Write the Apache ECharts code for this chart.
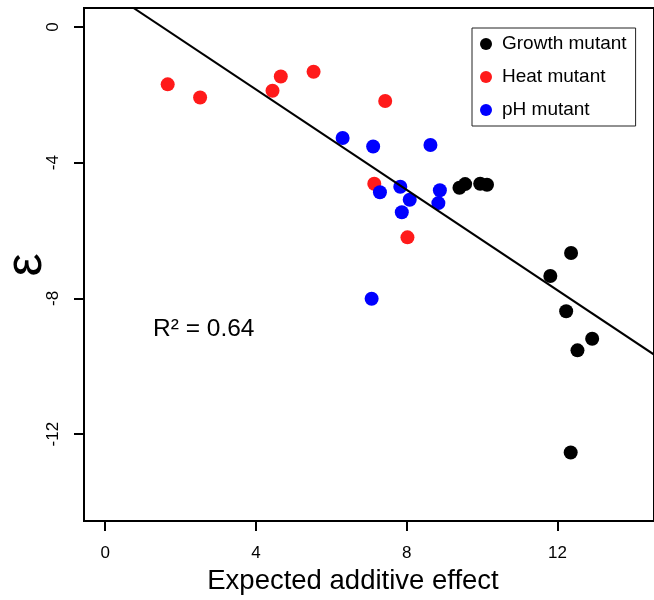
<!DOCTYPE html>
<html>
<head>
<meta charset="utf-8">
<script src="https://cdn.jsdelivr.net/npm/echarts@6/dist/echarts.min.js"></script>
<style>
html,body{margin:0;padding:0;background:#fff;}
#chart{width:654px;height:600px;}
</style>
</head>
<body>
<div id="chart"></div>
<script>
// values
var growthX = [9.40, 9.55, 9.95, 10.13, 12.36, 11.81, 12.23, 12.53, 12.92, 12.35];
var growthY = [-4.74, -4.63, -4.62, -4.65, -6.66, -7.34, -8.38, -9.53, -9.19, -12.54];
var heatX = [1.66, 2.52, 4.44, 4.66, 5.53, 7.43, 7.14, 8.02];
var heatY = [-1.69, -2.08, -1.88, -1.46, -1.32, -2.18, -4.62, -6.20];
var phX = [6.30, 7.11, 8.63, 7.29, 7.83, 8.08, 7.87, 8.88, 8.84, 7.07];
var phY = [-3.27, -3.52, -3.48, -4.87, -4.71, -5.09, -5.46, -4.81, -5.19, -8.01];
var xTicks = [0, 4, 8, 12];
var yTicks = [-12, -8, -4, 0];
var fitSlope = -0.74;
var fitIntercept = 1.12;
var r2Label = 'R\u00b2 = 0.64';

var xMin = -0.56, xMax = 14.56;
var yMin = -14.56, yMax = 0.56;

function pairs(xs, ys){
  return xs.map(function(x, i){ return [x, ys[i]]; });
}

var font = '"Liberation Sans", Arial, Helvetica, sans-serif';
var chart = echarts.init(document.getElementById('chart'));

chart.setOption({
  animation: false,
  grid: {
    left: 84, top: 8, right: -6, bottom: 79,
    show: true, borderColor: '#000', borderWidth: 2, backgroundColor: 'transparent'
  },
  xAxis: {
    type: 'value', min: xMin, max: xMax,
    axisLine: {show: false, onZero: false},
    splitLine: {show: false},
    axisTick: {show: true, customValues: xTicks, length: 10, lineStyle: {color: '#000', width: 2}},
    axisLabel: {customValues: xTicks, margin: 24, color: '#000', fontSize: 17, fontFamily: font}
  },
  yAxis: {
    type: 'value', min: yMin, max: yMax,
    axisLine: {show: false, onZero: false},
    splitLine: {show: false},
    axisTick: {show: true, customValues: yTicks, length: 10, lineStyle: {color: '#000', width: 2}},
    axisLabel: {customValues: yTicks, rotate: 90, margin: 22, color: '#000', fontSize: 17, fontFamily: font}
  },
  legend: {
    orient: 'vertical', left: 472, top: 28,
    data: ['Growth mutant', 'Heat mutant', 'pH mutant'],
    icon: 'circle', itemWidth: 12, itemHeight: 12, itemGap: 11,
    padding: [5, 9, 5, 8],
    borderColor: '#222', borderWidth: 1,
    textStyle: {color: '#000', fontSize: 19, fontFamily: font, lineHeight: 22, padding: [0, 0, 0, 5]}
  },
  graphic: [
    {type: 'text', x: 353, y: 581, style: {text: 'Expected additive effect', fill: '#000',
      font: '27.5px ' + font, textAlign: 'center', textVerticalAlign: 'middle'}},
    {type: 'text', x: 27, y: 265, rotation: Math.PI / 2, style: {text: '\u03b5', fill: '#000',
      font: '52px ' + font, textAlign: 'center', textVerticalAlign: 'middle'}},
    {type: 'text', x: 153, y: 329, style: {text: r2Label, fill: '#000',
      font: '24.5px ' + font, textAlign: 'left', textVerticalAlign: 'middle'}}
  ],
  series: [
    {name: 'Growth mutant', type: 'scatter', symbolSize: 14, itemStyle: {color: '#000', opacity: 1},
      data: pairs(growthX, growthY), z: 2},
    {name: 'Heat mutant', type: 'scatter', symbolSize: 14, itemStyle: {color: '#ff1a1a', opacity: 1},
      data: pairs(heatX, heatY), z: 2},
    {name: 'pH mutant', type: 'scatter', symbolSize: 14, itemStyle: {color: '#0000ff', opacity: 1},
      data: pairs(phX, phY), z: 3},
    {name: 'fit', type: 'line', symbol: 'none', clip: true, silent: true,
      lineStyle: {color: '#000', width: 2},
      data: [[xMin, fitIntercept + fitSlope * xMin], [xMax, fitIntercept + fitSlope * xMax]], z: 4}
  ]
});
</script>
</body>
</html>
